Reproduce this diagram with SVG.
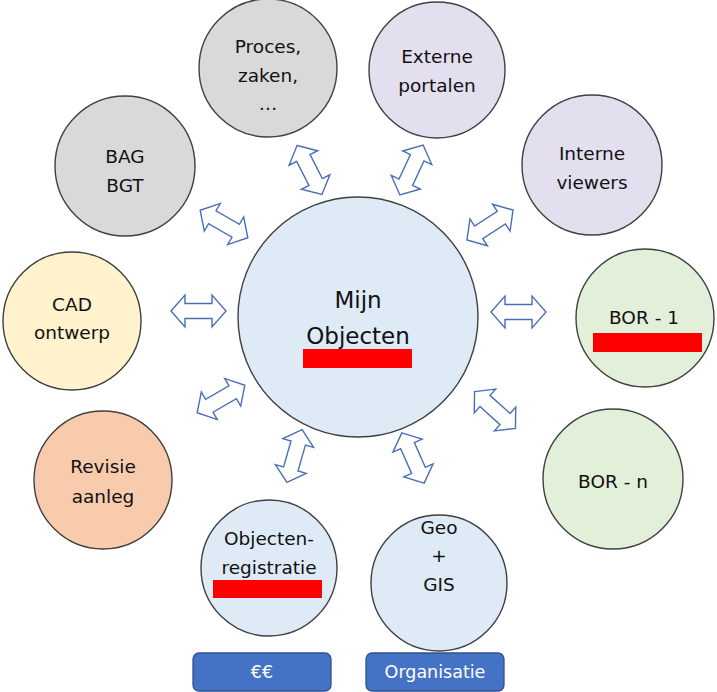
<svg xmlns="http://www.w3.org/2000/svg" width="717" height="692" viewBox="0 0 717 692">
<style>
.c{stroke:#404040;stroke-width:1.4}
.t{font-family:"DejaVu Sans","Liberation Sans",sans-serif;font-size:18.5px;fill:#111;text-anchor:middle}
.big{font-size:23px}
.bt{font-family:"DejaVu Sans","Liberation Sans",sans-serif;font-size:17.5px;fill:#fff;text-anchor:middle}
.btn{fill:#4472c4;stroke:#2f528f;stroke-width:1.3}
.red{fill:#ff0000}
.arr{fill:#fff;stroke:#4a6fb5;stroke-width:1.4;stroke-linejoin:miter}
</style>
<defs>
<path id="da" d="M -27.5 0 L -13.5 -16 L -13.5 -7.5 L 13.5 -7.5 L 13.5 -16 L 27.5 0 L 13.5 16 L 13.5 7.5 L -13.5 7.5 L -13.5 16 Z"/>
</defs>
<rect width="717" height="692" fill="#fff"/>
<g id="connectors" class="arr">
<use href="#da" transform="translate(309.5,170) rotate(63)"/>
<use href="#da" transform="translate(411.5,170) rotate(115)"/>
<use href="#da" transform="translate(490,225) rotate(-33)"/>
<use href="#da" transform="translate(518.5,312)"/>
<use href="#da" transform="translate(495,410) rotate(42)"/>
<use href="#da" transform="translate(413,458) rotate(66)"/>
<use href="#da" transform="translate(294.5,456) rotate(106)"/>
<use href="#da" transform="translate(221,399) rotate(-30)"/>
<use href="#da" transform="translate(198.5,311)"/>
<use href="#da" transform="translate(224,224) rotate(30)"/>
</g>
<g id="center">
<circle class="c" cx="358" cy="317" r="120" fill="#deebf7"/>
<text class="t big" x="358" y="308">Mijn</text>
<text class="t big" x="358" y="344">Objecten</text>
<rect class="red" x="303" y="349" width="109" height="19"/>
</g>
<g id="proces">
<circle class="c" cx="268" cy="68" r="69" fill="#d9d9d9"/>
<text class="t" x="268" y="53">Proces,</text>
<text class="t" x="268" y="82">zaken,</text>
<text class="t" x="268" y="110">…</text>
</g>
<g id="externe">
<circle class="c" cx="437" cy="70" r="68" fill="#e3dfee"/>
<text class="t" x="437" y="63">Externe</text>
<text class="t" x="437" y="92">portalen</text>
</g>
<g id="interne">
<circle class="c" cx="592" cy="165" r="70" fill="#e3dfee"/>
<text class="t" x="592" y="160">Interne</text>
<text class="t" x="592" y="189">viewers</text>
</g>
<g id="bag">
<circle class="c" cx="125" cy="166" r="70" fill="#d9d9d9"/>
<text class="t" x="125" y="163">BAG</text>
<text class="t" x="125" y="192">BGT</text>
</g>
<g id="cad">
<circle class="c" cx="72" cy="321" r="69" fill="#fff2cc"/>
<text class="t" x="72" y="311">CAD</text>
<text class="t" x="72" y="339">ontwerp</text>
</g>
<g id="revisie">
<circle class="c" cx="103" cy="480" r="69" fill="#f8cbad"/>
<text class="t" x="103" y="473">Revisie</text>
<text class="t" x="103" y="503">aanleg</text>
</g>
<g id="bor1">
<circle class="c" cx="645" cy="318" r="69" fill="#e2efd9"/>
<text class="t" x="644" y="324">BOR - 1</text>
<rect class="red" x="593" y="333" width="109" height="19"/>
</g>
<g id="born">
<circle class="c" cx="613" cy="479" r="70" fill="#e2efd9"/>
<text class="t" x="613" y="488">BOR - n</text>
</g>
<g id="geo">
<circle class="c" cx="439" cy="583" r="68" fill="#deebf7"/>
<text class="t" x="439" y="534">Geo</text>
<text class="t" x="439" y="562">+</text>
<text class="t" x="439" y="591">GIS</text>
</g>
<g id="objreg">
<circle class="c" cx="269" cy="568" r="68" fill="#deebf7"/>
<text class="t" x="269" y="545">Objecten-</text>
<text class="t" x="269" y="574">registratie</text>
<rect class="red" x="213" y="580" width="109" height="18"/>
</g>
<g id="euro">
<rect class="btn" x="193" y="653" width="138" height="38" rx="6"/>
<text class="bt" x="262" y="678">€€</text>
</g>
<g id="organisatie">
<rect class="btn" x="366" y="653" width="138" height="38" rx="6"/>
<text class="bt" x="435" y="678">Organisatie</text>
</g>
</svg>
